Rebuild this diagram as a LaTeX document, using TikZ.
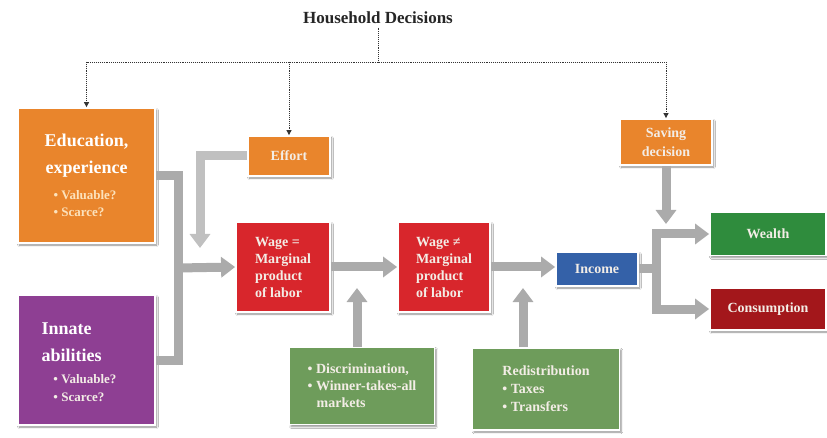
\documentclass[tikz,border=0pt]{standalone}
\usepackage{fontspec}
\setmainfont{Liberation Serif}
\usetikzlibrary{arrows.meta,shadows.blur}
\definecolor{orng}{HTML}{E9852C}
\definecolor{wred}{HTML}{D8262C}
\definecolor{purp}{HTML}{8E3F93}
\definecolor{incblue}{HTML}{3461A8}
\definecolor{wgreen}{HTML}{2F8C3D}
\definecolor{cred}{HTML}{A3171B}
\definecolor{lgreen}{HTML}{6E9C5B}
\definecolor{cream}{HTML}{FCE2BC}
\definecolor{pale}{HTML}{F3EDE6}
\definecolor{conn}{HTML}{ABABAB}
\begin{document}
\begin{tikzpicture}[x=1pt,y=-1pt,
  boxbase/.style={draw=white, line width=1.8pt, text=white, font=\bfseries,
    inner sep=3pt, blur shadow={shadow xshift=1.5pt, shadow yshift=-2pt,
    shadow blur steps=6, shadow opacity=45}},
  gline/.style={line width=9pt, draw=conn},
  garrow/.style={gline, -{Triangle[width=20pt,length=14pt]}},
  dotline/.style={densely dotted, line width=0.9pt, draw=black!80},
  dotarrow/.style={dotline, -{Triangle[width=5pt,length=5pt]}},
]
\useasboundingbox (0,0) rectangle (827,438);
\fill[white] (0,0) rectangle (827,438);

\def\sm{\fontsize{13}{17.5}\selectfont}
\def\md{\fontsize{14}{18}\selectfont}
\def\big{\fontsize{18}{27}\selectfont}

% title
\node[font=\bfseries\fontsize{17}{20}\selectfont, text=black!85] (hh) at (378,18) {Household Decisions};

% boxes
\node[boxbase, fill=orng, minimum width=137, minimum height=135, inner sep=0pt] (edu) at (86.5,175.5)
  {\begin{minipage}{125pt}\centering\bfseries
   {\big Education,\\experience\par}\vspace{8pt}
   {\sm\color{cream}\makebox[66pt][l]{• Valuable?}\\\makebox[66pt][l]{• Scarce?}\par}
   \end{minipage}};
\node[boxbase, fill=purp, minimum width=137, minimum height=130, inner sep=0pt] (innate) at (86.5,360)
  {\begin{minipage}{90pt}\raggedright\bfseries
   {\big Innate\\abilities\par}\vspace{5pt}
   {\sm\color{pale}\hspace*{12pt}• Valuable?\\\hspace*{12pt}• Scarce?\par}
   \vspace{-4pt}\end{minipage}};
\node[boxbase, fill=orng, minimum width=82, minimum height=40, font=\bfseries\md, text=pale] (effort) at (289,156) {Effort};
\node[boxbase, fill=orng, minimum width=92, minimum height=46, align=center, font=\bfseries\md, text=pale] (save) at (666,142) {Saving\\[1pt]decision};
\node[boxbase, fill=wred, minimum width=94, minimum height=90, align=left, font=\bfseries\md, text=pale] (w1) at (283,267) {Wage =\\[-1pt]Marginal\\[-1pt]product\\[-1pt]of labor};
\node[boxbase, fill=wred, minimum width=92, minimum height=90, align=left, font=\bfseries\md, text=pale] (w2) at (444,267) {Wage ≠\\[-1pt]Marginal\\[-1pt]product\\[-1pt]of labor};
\node[boxbase, fill=incblue, minimum width=82, minimum height=34, font=\bfseries\md, text=pale] (inc) at (597,269) {Income};
\node[boxbase, fill=wgreen, minimum width=116, minimum height=43, font=\bfseries\md, text=pale] (wealth) at (768,234) {Wealth};
\node[boxbase, fill=cred, minimum width=116, minimum height=42, font=\bfseries\md, text=pale] (cons) at (768,309) {Consumption};
\node[boxbase, fill=lgreen, minimum width=145, minimum height=77, align=left, font=\bfseries\md, text=pale] (disc) at (362,386)
  {• Discrimination,\\[-1pt]• Winner-takes-all\\[-1pt]\hspace{9pt}markets};
\node[boxbase, fill=lgreen, minimum width=147, minimum height=82, align=left, font=\bfseries\md, text=pale] (redis) at (546,389)
  {Redistribution\\[0pt]• Taxes\\[0pt]• Transfers};

% dotted household decision lines
\coordinate (dm) at (378,62);
\coordinate (dl) at (86.5,62);
\coordinate (dr) at (666,62);
\draw[dotline] (hh.south) -- (dm);
\draw[dotline] (dl) -- (dr);
\draw[dotarrow] (dl) -- (edu.north);
\draw[dotarrow] (effort.north |- dm) -- (effort.north);
\draw[dotarrow] (dr) -- (save.north);

% gray connectors
\coordinate (j1) at (178,268);
\coordinate (ea) at (200,248);
\coordinate (sa) at (666,224);
\coordinate (jn) at (656,269);
\coordinate (da) at (357,288);
\coordinate (ra) at (523,288);
\draw[gline] (edu.east) -| (j1) |- (innate.east);
\draw[garrow] (j1) -- (w1.west);
\draw[garrow, draw=conn!75] (effort.west) -| (ea);
\draw[garrow] (w1.east) -- (w2.west);
\draw[garrow] (w2.east) -- (w2.east -| inc.west);
\draw[garrow] (da |- disc.north) -- (da);
\draw[garrow] (ra |- redis.north) -- (ra);
\draw[garrow] (save.south) -- (sa);
\draw[gline] (inc.east) -- (jn);
\draw[garrow] (jn) |- (wealth.west);
\draw[garrow] (jn) |- (cons.west);
\end{tikzpicture}
\end{document}
